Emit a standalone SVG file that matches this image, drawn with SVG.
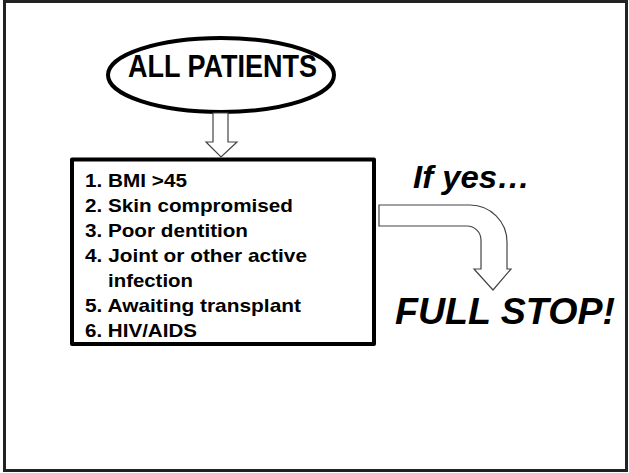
<svg xmlns="http://www.w3.org/2000/svg" width="629" height="473" viewBox="0 0 629 473">
<style>
.t{font-family:"Liberation Sans",Arial,sans-serif;font-weight:bold;fill:#000}
.li{font-size:19px}
.it{font-style:italic}
.arr{fill:#fff;stroke:#444;stroke-width:1.2;stroke-linejoin:miter}
</style>
<rect x="4.5" y="1.5" width="622" height="469" fill="#fff" stroke="#222" stroke-width="3"/>
<g id="all-patients">
<ellipse cx="221" cy="75" rx="113" ry="37" fill="#fff" stroke="#000" stroke-width="4"/>
<text class="t" x="222.5" y="77" font-size="31" text-anchor="middle" textLength="189" lengthAdjust="spacingAndGlyphs">ALL PATIENTS</text>
</g>
<g id="criteria">
<rect x="72" y="159.5" width="302" height="184.5" fill="#fff" stroke="#000" stroke-width="4" stroke-linejoin="round"/>
<text class="t li" x="85" y="187" textLength="102" lengthAdjust="spacingAndGlyphs">1. BMI &gt;45</text>
<text class="t li" x="85" y="212" textLength="208" lengthAdjust="spacingAndGlyphs">2. Skin compromised</text>
<text class="t li" x="85" y="237" textLength="163" lengthAdjust="spacingAndGlyphs">3. Poor dentition</text>
<text class="t li" x="85" y="262" textLength="222" lengthAdjust="spacingAndGlyphs">4. Joint or other active</text>
<text class="t li" x="108" y="287" textLength="85" lengthAdjust="spacingAndGlyphs">infection</text>
<text class="t li" x="85" y="312" textLength="216" lengthAdjust="spacingAndGlyphs">5. Awaiting transplant</text>
<text class="t li" x="85" y="337" textLength="112" lengthAdjust="spacingAndGlyphs">6. HIV/AIDS</text>
</g>
<g id="if-yes">
<text class="t it" x="413" y="188" font-size="32" textLength="117" lengthAdjust="spacingAndGlyphs">If yes…</text>
</g>
<g id="full-stop">
<text class="t it" x="395" y="324" font-size="36" textLength="220" lengthAdjust="spacingAndGlyphs">FULL STOP!</text>
</g>
<g id="connectors">
<path class="arr" d="M213,113 L228,113 L228,142 L237,142 L221,157 L206,142 L213,142 Z"/>
<path class="arr" d="M379,205 L470,205 A37,37 0 0 1 507,242 L507,269 L511,269 L493,290 L474,269 L481,269 L481,240 A14,14 0 0 0 467,226 L379,226 Z"/>
</g>
</svg>
